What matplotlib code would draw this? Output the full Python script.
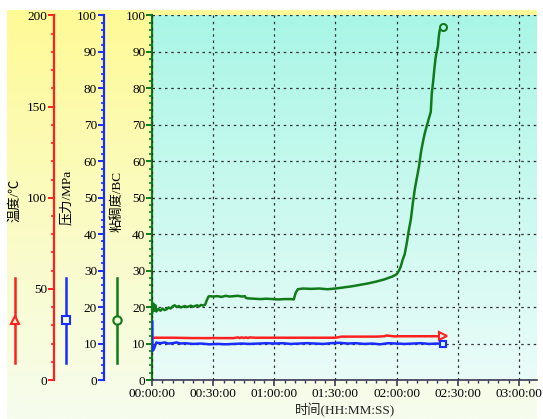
import numpy as np
import matplotlib
matplotlib.use("Agg")
from matplotlib import pyplot as plt
from matplotlib.lines import Line2D
from matplotlib.ticker import MultipleLocator, FuncFormatter

plt.rcParams['font.family'] = ['Liberation Serif', 'Noto Sans CJK SC']

# viscosity (BC) vs minutes
visc_t = [0, 0.5, 1, 1.5, 2, 3, 4, 5, 6, 7, 8, 9, 10, 11, 12, 13, 14, 15, 16, 17,
          18, 19, 20, 21, 22, 23, 24, 25, 26, 26.5, 27.5, 28, 30, 32, 34, 36, 38, 40,
          42, 44, 45.5, 46, 47, 50, 53, 56, 59, 62, 65, 68, 69.5, 70.5, 71.5, 74, 78,
          82, 86, 90, 94, 98, 102, 106, 110, 114, 118, 120, 121, 122, 123, 124, 125,
          126, 127, 128, 129, 130, 131, 132, 133, 134, 135, 136, 136.8, 137.3, 138,
          138.6, 139.2, 139.8, 140.3, 140.7, 141.2, 141.8, 142.9]
visc_v = [18.5, 21, 19, 20.5, 18.8, 19.5, 19.0, 19.6, 19.2, 19.4, 19.9, 19.6, 20.2,
          20.5, 20.0, 20.3, 19.9, 20.1, 20.3, 20.0, 20.2, 20.4, 20.1, 20.3, 20.5, 20.2,
          20.6, 20.4, 20.7, 21.5, 22.8, 23.0, 22.9, 23.0, 22.8, 23.1, 22.9, 23.0, 23.1,
          22.9, 23.0, 22.5, 22.4, 22.3, 22.2, 22.3, 22.2, 22.1, 22.2, 22.2, 22.1, 24.0,
          24.9, 25.1, 25.0, 25.1, 24.9, 25.1, 25.4, 25.7, 26.1, 26.5, 27.0, 27.6, 28.4,
          29.0, 29.8, 31.0, 33.0, 34.5, 37.5, 41.0, 44.0, 48.5, 52.5, 55.5, 58.5, 62.5,
          65.5, 68.0, 70.0, 72.0, 73.5, 78.5, 82.0, 85.5, 88.5, 90.2, 91.5, 94.0, 96.0,
          96.6, 96.8]

# temperature (C)
temp_t = [0, 10, 20, 30, 40, 42, 43, 44, 45, 46, 47, 48, 50, 60, 70, 80, 90, 92, 93,
          100, 110, 114, 115, 117, 119, 121, 130, 140, 142.9]
temp_v = [23.2, 23.2, 23.0, 23.0, 23.0, 23.4, 23.0, 23.4, 23.0, 23.4, 23.0, 23.4, 23.2,
          23.2, 23.2, 23.2, 23.2, 23.6, 23.8, 23.8, 23.8, 24.0, 24.4, 24.2, 23.9, 24.0,
          24.0, 24.0, 24.0]

# pressure (MPa)
pres_t = [0, 0.05, 0.5, 1, 1.5, 2, 2.5, 4, 6, 8, 10, 12, 14, 16, 20, 24, 28, 32, 36,
          40, 44, 48, 52, 56, 60, 64, 68, 72, 76, 80, 84, 88, 92, 96, 100, 104, 108,
          112, 116, 120, 124, 128, 132, 136, 140, 142.9]
pres_v = [16, 8, 8.2, 8.8, 9.6, 10.3, 10.2, 10.1, 10.3, 10.0, 10.1, 10.3, 10.0, 10.1,
          9.9, 10.0, 9.8, 9.9, 9.8, 9.9, 10.0, 9.9, 10.0, 10.1, 10.0, 10.1, 9.9, 10.0,
          10.1, 10.0, 9.9, 10.1, 10.2, 10.0, 10.1, 9.9, 10.0, 9.8, 10.1, 10.0, 9.9, 10.0,
          10.1, 9.9, 10.0, 9.9]

RED, BLUE, GREEN = '#ff2020', '#1a2cff', '#117a1a'
W, H = 543, 419

fig = plt.figure(figsize=(W / 100, H / 100), dpi=100)
fig.patch.set_facecolor('white')

def vgrad(top, bottom, n=256):
    top = np.array(matplotlib.colors.to_rgb(top))
    bottom = np.array(matplotlib.colors.to_rgb(bottom))
    f = np.linspace(0, 1, n)[:, None]
    return (top * (1 - f) + bottom * f)[:, None, :]

# yellow background panel
bg = fig.add_axes([7 / W, 0, 530 / W, 409 / H], zorder=-10)
bg.imshow(vgrad('#fffa96', '#f6fdee'), aspect='auto', extent=[0, 1, 0, 1])
bg.axis('off')

ax = fig.add_axes([152.3 / W, 39 / H, 384.7 / W, 364.5 / H])
ax.patch.set_visible(False)
ax.imshow(vgrad('#a9f6e6', '#eafcf8'), aspect='auto', extent=[0, 1, 0, 1],
          transform=ax.transAxes, zorder=0)

ax.set_xlim(0, 189)
ax.set_ylim(0, 100)
ax.plot(visc_t, visc_v, color=GREEN, lw=1.8, zorder=3)
ax.plot(visc_t[-1], visc_v[-1], 'o', ms=5, mfc='#b0f6e8', mec=GREEN, mew=1.5, zorder=4)

for s in ('top', 'right'):
    ax.spines[s].set_visible(False)
ax.spines['left'].set_color(GREEN)
ax.spines['left'].set_linewidth(1.6)
ax.spines['bottom'].set_color('#3a3a5a')
ax.spines['bottom'].set_linewidth(1.2)
ax.yaxis.set_major_locator(MultipleLocator(10))
ax.yaxis.set_minor_locator(MultipleLocator(2))
ax.xaxis.set_major_locator(MultipleLocator(30))
ax.xaxis.set_minor_locator(MultipleLocator(5))
ax.xaxis.set_major_formatter(FuncFormatter(
    lambda v, p: "%02d:%02d:00" % (int(v) // 60, int(v) % 60)))
ax.tick_params(axis='y', which='major', color=GREEN, length=4, width=1.4, labelsize=9.5, pad=1)
ax.tick_params(axis='y', which='minor', color=GREEN, length=2.5, width=1.2)
ax.tick_params(axis='x', which='major', color='#3a3a5a', length=4, width=1.2, labelsize=9.5, pad=2)
ax.tick_params(axis='x', which='minor', color='#3a3a5a', length=2.5, width=1.0)
ax.grid(True, which='major', color='#333333', linestyle=(0, (2, 3)), lw=0.9, zorder=1)
ax.set_axisbelow(False)
ax.set_xlabel('时间(HH:MM:SS)', fontsize=9.5, labelpad=2, color='#222222')

# temperature axis
axT = ax.twinx()
axT.set_ylim(0, 200)
axT.plot(temp_t, temp_v, color=RED, lw=1.8, zorder=3)
axT.plot(temp_t[-1], temp_v[-1], '>', ms=6, mfc='#d0faf0', mec=RED, mew=1.5, zorder=4)
# pressure axis
axP = ax.twinx()
axP.set_ylim(0, 100)
axP.plot(pres_t, pres_v, color=BLUE, lw=1.8, zorder=3)
axP.plot(pres_t[-1], pres_v[-1], 's', ms=5, mfc='#d8fbf3', mec=BLUE, mew=1.5, zorder=4)

for a, pos, col, maj, mnr in ((axT, -0.2555, RED, 50, 10), (axP, -0.1256, BLUE, 10, 2)):
    for s in ('top', 'right', 'bottom'):
        a.spines[s].set_visible(False)
    a.spines['left'].set_visible(True)
    a.spines['left'].set_position(('axes', pos))
    a.spines['left'].set_color(col)
    a.spines['left'].set_linewidth(1.6)
    a.yaxis.set_ticks_position('left')
    a.yaxis.set_major_locator(MultipleLocator(maj))
    a.yaxis.set_minor_locator(MultipleLocator(mnr))
    a.tick_params(axis='y', which='major', color=col, length=4, width=1.4, labelsize=9.5, pad=1)
    a.tick_params(axis='y', which='minor', color=col, length=2.5, width=1.2)

# axis titles
fig.text(15 / W, 1 - 200 / H, '温度/℃', rotation=90, ha='center', va='center', fontsize=9.5)
fig.text(67 / W, 1 - 197 / H, '压力/MPa', rotation=90, ha='center', va='center', fontsize=9.5)
fig.text(117 / W, 1 - 201 / H, '粘稠度/BC', rotation=90, ha='center', va='center', fontsize=9.5)

# series keys beside the axes
for x, col, mk in ((15, RED, '^'), (65.5, BLUE, 's'), (116.5, GREEN, 'o')):
    fig.add_artist(Line2D([x / W, x / W], [1 - 363 / H, 1 - 278 / H], color=col, lw=1.8,
                          transform=fig.transFigure))
    fig.add_artist(Line2D([x / W], [1 - 320 / H], color=col, marker=mk, ms=6, mew=1.5,
                          mfc='#f8fbd8', transform=fig.transFigure))

fig.savefig('out.png', dpi=100)
